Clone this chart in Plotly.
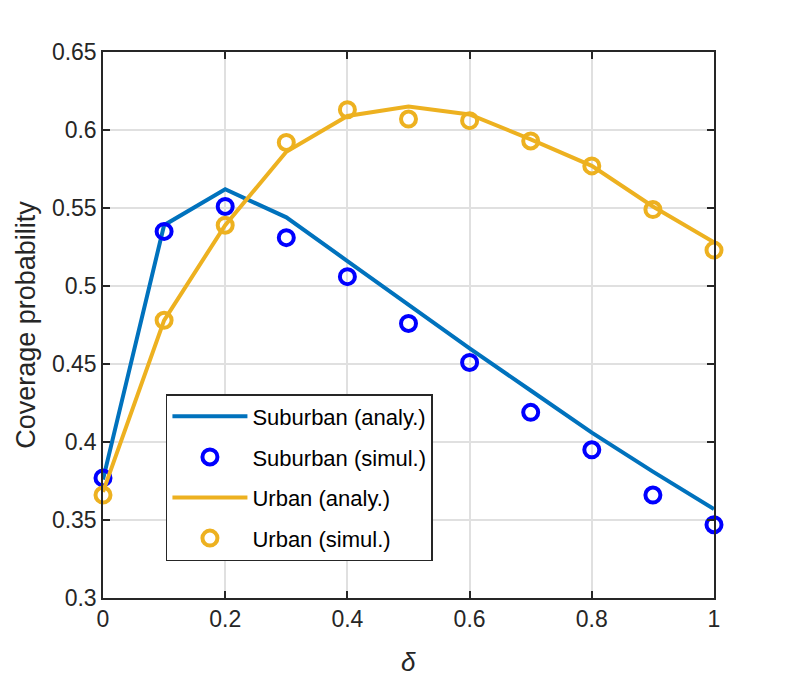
import plotly.graph_objects as go

# delta values
delta = [0, 0.1, 0.2, 0.3, 0.4, 0.5, 0.6, 0.7, 0.8, 0.9, 1.0]

# coverage probability
suburban_analy = [0.376, 0.539, 0.562, 0.544, 0.516, 0.488, 0.460, 0.433, 0.406, 0.381, 0.357]
suburban_simul = [0.377, 0.535, 0.551, 0.531, 0.506, 0.476, 0.451, 0.419, 0.395, 0.366, 0.347]
urban_analy = [0.368, 0.478, 0.539, 0.586, 0.609, 0.615, 0.610, 0.594, 0.577, 0.551, 0.528]
urban_simul = [0.366, 0.478, 0.539, 0.592, 0.613, 0.607, 0.606, 0.593, 0.577, 0.549, 0.523]

x_ticks = [0, 0.2, 0.4, 0.6, 0.8, 1]
x_labels = ["0", "0.2", "0.4", "0.6", "0.8", "1"]
y_ticks = [0.3, 0.35, 0.4, 0.45, 0.5, 0.55, 0.6, 0.65]
y_labels = ["0.3", "0.35", "0.4", "0.45", "0.5", "0.55", "0.6", "0.65"]

BLUE_LINE = "#0072BD"
BLUE_MARK = "#0000FF"
YELLOW = "#EDB120"
AX = "#262626"
FONT = "Liberation Sans, Arial, sans-serif"

fig = go.Figure()

fig.add_trace(go.Scatter(
    x=delta, y=suburban_analy, mode="lines", name="Suburban (analy.)",
    line=dict(color=BLUE_LINE, width=4), legendgroup="a", cliponaxis=False,
))
fig.add_trace(go.Scatter(
    x=delta, y=suburban_simul, mode="markers", name="Suburban (simul.)",
    marker=dict(symbol="circle-open", size=15, color=BLUE_MARK, line=dict(width=4)),
    legendgroup="b", cliponaxis=False,
))
fig.add_trace(go.Scatter(
    x=delta, y=urban_analy, mode="lines", name="Urban (analy.)",
    line=dict(color=YELLOW, width=4), legendgroup="c", cliponaxis=False,
))
fig.add_trace(go.Scatter(
    x=delta, y=urban_simul, mode="markers", name="Urban (simul.)",
    marker=dict(symbol="circle-open", size=15, color=YELLOW, line=dict(width=4)),
    legendgroup="d", cliponaxis=False,
))

axis_common = dict(
    showline=True, linecolor=AX, linewidth=1.5, mirror="ticks",
    ticks="inside", ticklen=7, tickwidth=1.5, tickcolor=AX,
    showgrid=True, gridcolor="#e0e0e0", gridwidth=1.5,
    zeroline=False, automargin=False,
    tickfont=dict(family=FONT, size=23, color=AX),
)

# page body adds ~8px offset, so margins are shifted to compensate
fig.update_layout(
    width=789, height=677,
    margin=dict(l=95, r=83, t=44, b=87),
    paper_bgcolor="white", plot_bgcolor="white",
    font=dict(family=FONT, color=AX),
    xaxis=dict(range=[0, 1], tickvals=x_ticks, ticktext=x_labels, **axis_common),
    yaxis=dict(
        range=[0.3, 0.65], tickvals=y_ticks, ticktext=y_labels,
        title=dict(text="Coverage probability", font=dict(family=FONT, size=27, color=AX), standoff=8),
        **axis_common,
    ),
    legend=dict(
        x=0.103, y=0.3736, xanchor="left", yanchor="top",
        bgcolor="white", bordercolor=AX, borderwidth=1.5,
        font=dict(family=FONT, size=22, color="black"),
        tracegroupgap=9, itemwidth=75,
    ),
)

# x label placed a bit lower than plotly's title would go
fig.add_annotation(
    text="<i>δ</i>", xref="paper", yref="paper", x=0.5, y=0,
    yanchor="middle", yshift=-64, showarrow=False,
    font=dict(family=FONT, size=26, color=AX),
)

fig.write_html("out.html")
